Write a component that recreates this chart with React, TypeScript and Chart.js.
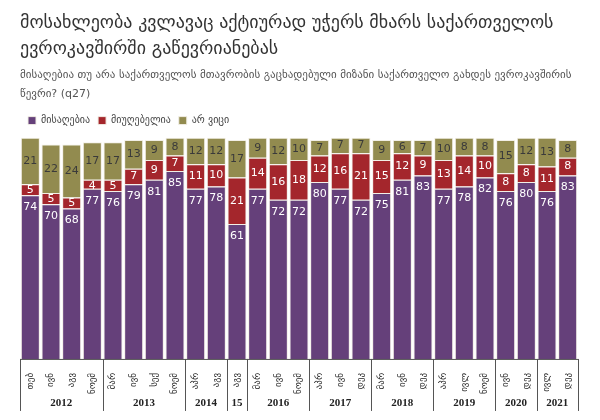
import React, { useEffect, useRef } from "react";
import { Chart, registerables } from "chart.js";
Chart.register(...registerables);

const months = ["თებ","ივნ","აგვ","ნოემ","მარ","ივნ","სექ","ნოემ","აპრ","აგვ","აგვ","მარ","ივნ","ნოემ","აპრ","ივნ","დეკ","მარ","ივნ","დეკ","აპრ","ივლ","ნოემ","ივნ","დეკ","ივლ","დეკ"];
const years = ["2012","2013","2014","15","2016","2017","2018","2019","2020","2021"];
const yearCounts = [4,4,2,1,3,3,3,3,2,2];
const support = [74,70,68,77,76,79,81,85,77,78,61,77,72,72,80,77,72,75,81,83,77,78,82,76,80,76,83];
const oppose = [5,5,5,4,5,7,9,7,11,10,21,14,16,18,12,16,21,15,12,9,13,14,10,8,8,11,8];
const dontKnow = [21,22,24,17,17,13,9,8,12,12,17,9,12,10,7,7,7,9,6,7,10,8,8,15,12,13,8];

const FONT = "'DejaVu Sans', sans-serif";

const labelsPlugin = {
  id: "segLabels",
  afterDatasetsDraw(chart: any) {
    const ctx = chart.ctx;
    ctx.save();
    ctx.font = `11px ${FONT}`;
    ctx.textAlign = "center";
    ctx.textBaseline = "middle";
    chart.data.datasets.forEach((ds: any, di: number) => {
      const meta = chart.getDatasetMeta(di);
      meta.data.forEach((el: any, i: number) => {
        const v = ds.data[i];
        const top = Math.min(el.y, el.base);
        const bot = Math.max(el.y, el.base);
        let y = (top + bot) / 2;
        if (di === 0) y = top + 12;
        if (di === 1 && bot - top < 12) y = top + 6;
        ctx.fillStyle = di === 2 ? "#3a3a3a" : "#ffffff";
        ctx.fillText(String(v), el.x, y);
      });
    });
    ctx.restore();
  },
};

const yearPlugin = {
  id: "yearGroups",
  afterDraw(chart: any) {
    const ctx = chart.ctx;
    const xs = chart.scales.x;
    const area = chart.chartArea;
    const step = xs.getPixelForValue(1) - xs.getPixelForValue(0);
    ctx.save();
    ctx.strokeStyle = "#555";
    ctx.lineWidth = 1;
    ctx.fillStyle = "#222";
    ctx.font = `bold 11px 'Liberation Serif', serif`;
    ctx.textAlign = "center";
    ctx.textBaseline = "middle";
    let idx = 0;
    const bottom = area.bottom + 52;
    ctx.beginPath();
    ctx.moveTo(area.left, area.bottom + 0.5);
    ctx.lineTo(area.right, area.bottom + 0.5);
    ctx.stroke();
    years.forEach((yr, g) => {
      const x0 = xs.getPixelForValue(idx) - step / 2;
      const x1 = xs.getPixelForValue(idx + yearCounts[g] - 1) + step / 2;
      ctx.beginPath();
      ctx.moveTo(Math.round(x0) + 0.5, area.bottom);
      ctx.lineTo(Math.round(x0) + 0.5, bottom);
      if (g === years.length - 1) {
        ctx.moveTo(Math.round(x1) + 0.5, area.bottom);
        ctx.lineTo(Math.round(x1) + 0.5, bottom);
      }
      ctx.stroke();
      ctx.fillText(yr, (x0 + x1) / 2, area.bottom + 44);
      idx += yearCounts[g];
    });
    ctx.restore();
  },
};

export default function App() {
  const ref = useRef<HTMLCanvasElement>(null);
  useEffect(() => {
    const chart = new Chart(ref.current!, {
      type: "bar",
      data: {
        labels: months,
        datasets: [
          { label: "მისაღებია", data: support, backgroundColor: "#65407a", borderColor: "#f2efe6", borderWidth: 1 },
          { label: "მიუღებელია", data: oppose, backgroundColor: "#a4262c", borderColor: "#f2efe6", borderWidth: 1 },
          { label: "არ ვიცი", data: dontKnow, backgroundColor: "#928b4f", borderColor: "#f2efe6", borderWidth: 1 },
        ],
      },
      options: {
        animation: false,
        responsive: true,
        maintainAspectRatio: false,
        layout: { padding: { left: 20, right: 22, bottom: 20, top: 0 } },
        datasets: { bar: { categoryPercentage: 0.92, barPercentage: 1 } },
        scales: {
          x: {
            stacked: true,
            grid: { display: false },
            border: { display: false },
            ticks: { minRotation: 90, maxRotation: 90, autoSkip: false, color: "#222", font: { family: FONT, size: 9 }, padding: 6 },
          },
          y: { stacked: true, display: false, min: 0, max: 101 },
        },
        plugins: {
          tooltip: { enabled: false },
          title: {
            display: true,
            text: ["მოსახლეობა კვლავაც აქტიურად უჭერს მხარს საქართველოს", "ევროკავშირში გაწევრიანებას"],
            align: "start",
            color: "#333",
            font: { family: FONT, size: 18, weight: "normal", lineHeight: 1.45 },
            padding: { top: 10, bottom: 4 },
          },
          subtitle: {
            display: true,
            text: ["მისაღებია თუ არა საქართველოს მთავრობის გაცხადებული მიზანი საქართველო გახდეს ევროკავშირის", "წევრი? (q27)"],
            align: "start",
            color: "#555",
            font: { family: FONT, size: 11, lineHeight: 1.7 },
            padding: { bottom: 4 },
          },
          legend: {
            display: true,
            align: "start",
            labels: { boxWidth: 8, boxHeight: 8, padding: 8, color: "#444", font: { family: FONT, size: 10 } },
          },
        },
      },
      plugins: [labelsPlugin, yearPlugin],
    });
    return () => chart.destroy();
  }, []);
  return (
    <div style={{ position: "fixed", left: 0, top: 0, width: 600, height: 420, background: "#fff" }}>
      <canvas ref={ref} />
    </div>
  );
}
